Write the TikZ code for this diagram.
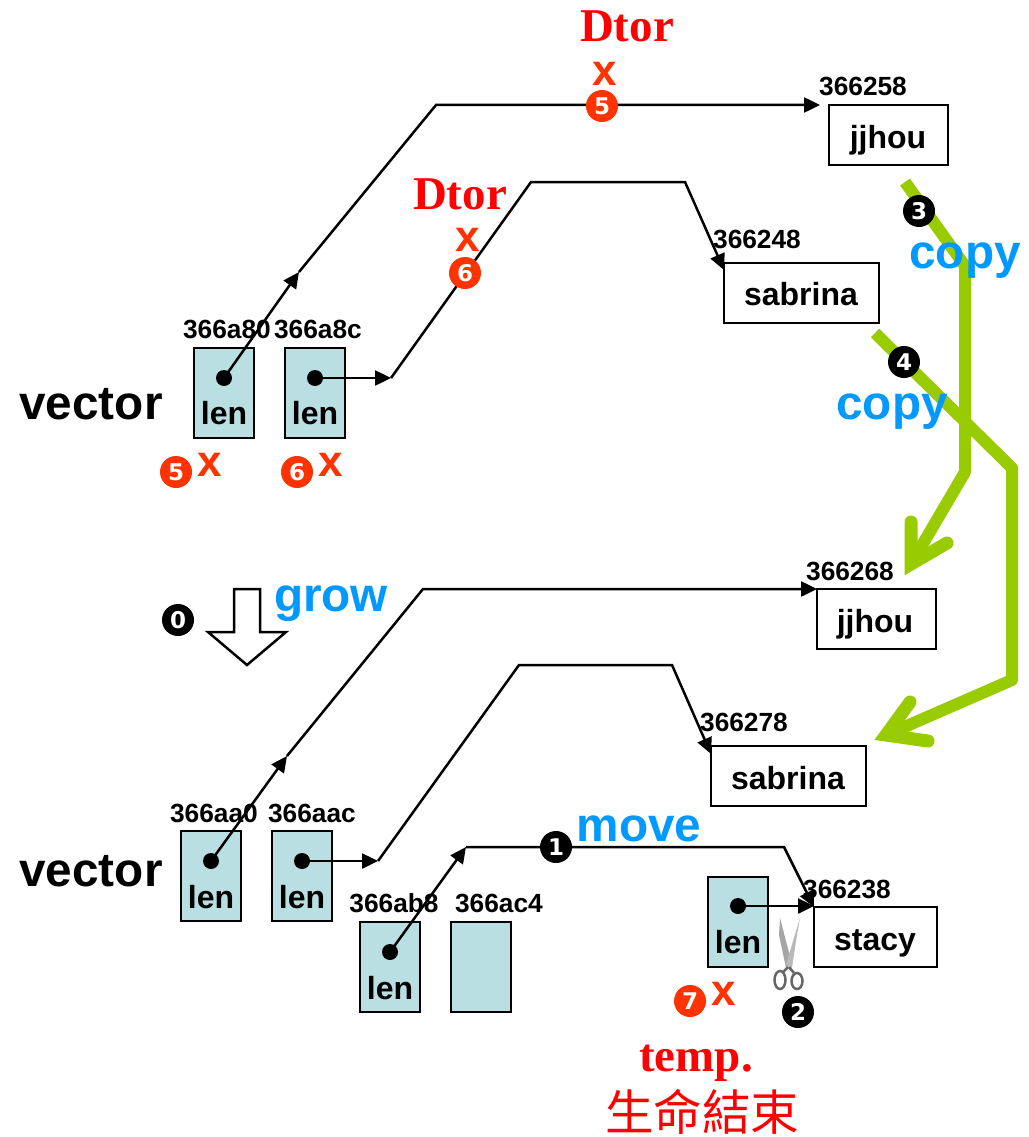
\documentclass[tikz,border=0pt]{standalone}
\usepackage{fontspec}
\setmainfont{Liberation Sans}
\newfontfamily\serifb{Liberation Serif}[Scale=1]
\newfontfamily\cjkf{Noto Sans CJK TC}
\newfontfamily\numf{DejaVu Sans}
\usetikzlibrary{arrows.meta}
\definecolor{cellfill}{HTML}{B9DFE3}
\definecolor{gr}{HTML}{99CC00}
\definecolor{bl}{HTML}{0099FF}
\definecolor{orng}{HTML}{FF3300}
\tikzset{
 x=1pt,y=-1pt,
 cell/.style={draw=black,line width=2.5pt,fill=cellfill,minimum width=60pt,minimum height=90pt,inner sep=0pt,outer sep=0pt},
 strbox/.style={draw=black,fill=white,line width=2.5pt,inner sep=0pt,outer sep=0pt},
 txt/.style={anchor=base,inner sep=0pt,font=\bfseries\fontsize{#1}{#1}\selectfont},
 addr/.style={txt=26.3},
 strtxt/.style={txt=32},
 copytxt/.style={txt=47.7,text=bl},
 rdt/.style={anchor=base,inner sep=0pt,text=red,font=\serifb\bfseries\fontsize{47}{47}\selectfont},
 xmark/.style={txt=44,text=orng},
 dotn/.style={circle,fill=black,minimum size=16pt,inner sep=0pt},
 num/.style={circle,fill=#1,minimum size=32pt,inner sep=0pt,text=white,font=\numf\bfseries\fontsize{23}{23}\selectfont},
 link/.style={line width=2.5pt,draw=black,line join=miter},
 arr/.style={link,-{Triangle[length=16pt,width=15pt]}},
 greenl/.style={draw=gr,line width=12pt,line join=round},
 greenb/.style={draw=gr,line width=13pt,line join=miter,line cap=round},
 handle/.style={draw=black!60,line width=2.5pt},
}
\begin{document}
\begin{tikzpicture}
\useasboundingbox (0,0) rectangle (1028,1137);
% string boxes
\node[strbox,minimum width=119pt,minimum height=60pt] (b1) at (888.5,135) {};
\node[strbox,minimum width=155pt,minimum height=60pt] (b2) at (801.5,293) {};
\node[strbox,minimum width=119pt,minimum height=60pt] (b3) at (876.5,619) {};
\node[strbox,minimum width=155pt,minimum height=60pt] (b4) at (788.5,776) {};
\node[strbox,minimum width=123pt,minimum height=60pt] (b5) at (875.5,937) {};
% cells
\node[cell] (c1) at (224,393) {};
\node[cell] (c2) at (315,393) {};
\node[cell] (c3) at (211,876) {};
\node[cell] (c4) at (302,876) {};
\node[cell] (c5) at (390,967) {};
\node[cell] (c6) at (481,967) {};
\node[cell] (c7) at (738,922) {};
% dots
\node[dotn] (d1) at (224,378) {};
\node[dotn] (d2) at (315,378) {};
\node[dotn] (d3) at (211,861) {};
\node[dotn] (d4) at (302,861) {};
\node[dotn] (d5) at (390,952) {};
\node[dotn] (d7) at (738,906) {};
% bends
\coordinate (a1) at (299,272);
\coordinate (a1b) at (436,105);
\coordinate (a2) at (391,378);
\coordinate (a2b) at (531,182);
\coordinate (a2c) at (685,182);
\coordinate (a3) at (287,756);
\coordinate (a3b) at (423,589);
\coordinate (a4) at (378,861);
\coordinate (a4b) at (519,665);
\coordinate (a4c) at (672,665);
\coordinate (a5) at (466,847);
\coordinate (a5c) at (784,847);
\coordinate (e1) at (820,105);
\coordinate (e2) at (724,270);
\coordinate (e4) at (711,754);
% links
\draw[arr] (d1.center) -- (a1);
\draw[arr] (a1) -- (a1b) -- (e1);
\draw[arr] (d2.center) -- (a2);
\draw[arr] (a2) -- (a2b) -- (a2c) -- (e2);
\draw[arr] (d3.center) -- (a3);
\draw[arr] (a3) -- (a3b) -- (b3.north west);
\draw[arr] (d4.center) -- (a4);
\draw[arr] (a4) -- (a4b) -- (a4c) -- (e4);
\draw[arr] (d5.center) -- (a5);
\draw[arr] (a5) -- (a5c) -- (b5.north west);
\draw[arr] (d7.center) -- (d7 -| b5.west);
% green copies
\coordinate (g1a) at (905,182);
\coordinate (g1b) at (965,266);
\coordinate (g1c) at (965,472);
\coordinate (g1d) at (911,564);
\coordinate (g2a) at (875,333);
\coordinate (g2b) at (1012,468);
\coordinate (g2c) at (1012,680);
\coordinate (g2d) at (886,735);
\draw[greenl] (g1a) -- (g1b) -- (g1c) -- (g1d);
\draw[greenb] (911,522) -- (g1d) -- (947,543);
\draw[greenl] (g2a) -- (g2b) -- (g2c) -- (g2d);
\draw[greenb] (910,702) -- (g2d) -- (928,741);
% hollow arrow
\draw[line width=2.5pt,fill=white,line join=miter] (234,589) -- (260,589) -- (260,632) -- (286,632) -- (247,665) -- (208,632) -- (234,632) -- cycle;
% scissors
\fill[gray!70] (780,918) -- (792,964) -- (786,968) -- (779,935) -- cycle;
\fill[gray!55] (800,918) -- (786,964) -- (792,968) -- (797,935) -- cycle;
\draw[handle] (780,980) ellipse [x radius=5.5,y radius=9];
\draw[handle] (797,981) ellipse [x radius=5.5,y radius=8];
\draw[handle] (788,967) -- (783,972) (789,967) -- (794,973);
% texts
\node[addr] (t1) at (863,96) {366258};
\node[addr] (t2) at (757,248) {366248};
\node[addr] (t3) at (227,338) {366a80};
\node[addr] (t4) at (318,338) {366a8c};
\node[addr] (t5) at (850,580) {366268};
\node[addr] (t6) at (744,731) {366278};
\node[addr] (t7) at (214,822) {366aa0};
\node[addr] (t8) at (312,822) {366aac};
\node[addr] (t9) at (394,912) {366ab8};
\node[addr] (t10) at (499,912) {366ac4};
\node[addr] (t11) at (847,898) {366238};
\node[strtxt] (n1) at (888,148) {jjhou};
\node[strtxt] (n2) at (801,305) {sabrina};
\node[strtxt] (n3) at (875,632) {jjhou};
\node[strtxt] (n4) at (788,789) {sabrina};
\node[strtxt] (n5) at (875,950) {stacy};
\node[strtxt] (l1) at (224,424) {len};
\node[strtxt] (l2) at (315,424) {len};
\node[strtxt] (l3) at (211,908) {len};
\node[strtxt] (l4) at (302,908) {len};
\node[strtxt] (l5) at (390,999) {len};
\node[strtxt] (l7) at (738,953) {len};
\node[txt=47.7] (v1) at (91,419) {vector};
\node[txt=47.7] (v2) at (91,886) {vector};
\node[copytxt] (cp1) at (965,268) {copy};
\node[copytxt] (cp2) at (892,419) {copy};
\node[copytxt] (gw) at (331,611) {grow};
\node[copytxt] (mv) at (639,841) {move};
\node[rdt] (dt1) at (627,42) {Dtor};
\node[rdt] (dt2) at (460,209) {Dtor};
\node[rdt] (tp) at (696,1071) {temp.};
\node[anchor=base,inner sep=0pt,text=red,font=\cjkf\fontsize{48.5}{48.5}\selectfont] (lf) at (702,1130) {生命結束};
\node[xmark] (x1) at (605,86) {x};
\node[xmark] (x2) at (468,251) {x};
\node[xmark] (x3) at (210,476) {x};
\node[xmark] (x4) at (331,476) {x};
\node[xmark] (x5) at (724,1005) {x};
\node[num=orng] (o5a) at (602,106) {5};
\node[num=orng] (o6a) at (465,273) {6};
\node[num=orng] (o5b) at (176,472) {5};
\node[num=orng] (o6b) at (297,472) {6};
\node[num=orng] (o7) at (690,1001) {7};
\node[num=black] (k0) at (178,620) {0};
\node[num=black] (k1) at (556,847) {1};
\node[num=black] (k2) at (798,1012) {2};
\node[num=black] (k3) at (919,211) {3};
\node[num=black] (k4) at (904,362) {4};
\end{tikzpicture}
\end{document}
